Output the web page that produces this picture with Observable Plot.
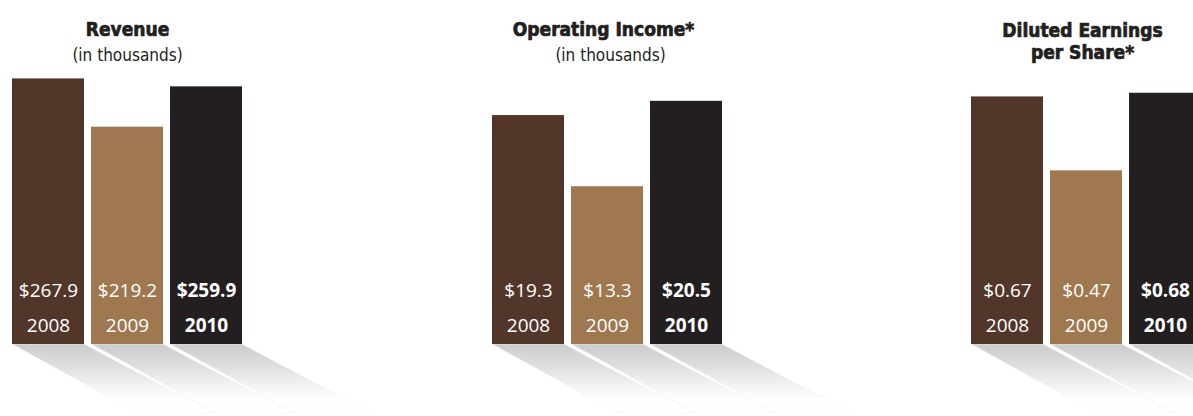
<!DOCTYPE html>
<html><head><meta charset="utf-8">
<script src="https://cdn.jsdelivr.net/npm/d3@7"></script>
<script src="https://cdn.jsdelivr.net/npm/@observablehq/plot@0.6"></script>
<style>
body{margin:0;background:#fff;}
#chart{position:relative;width:1193px;height:416px;overflow:hidden;background:#fff;}
#chart svg{position:absolute;top:0;}
</style></head>
<body><div id="chart"></div>
<script>
// ---- data ----
const years = ["2008", "2009", "2010"];
const revenue = [267.9, 219.2, 259.9];
const operatingIncome = [19.3, 13.3, 20.5];
const dilutedEPS = [0.67, 0.47, 0.68];
const barColors = ["#53362a", "#a0784f", "#231f20"];
const highlightYear = "2010";
const panelTitles = [["Revenue"], ["Operating Income*"], ["Diluted Earnings", "per Share*"]];
const panelSubtitles = ["(in thousands)", "(in thousands)", ""];
const panelValues = [revenue, operatingIncome, dilutedEPS];
const valueDecimals = [1, 1, 2];
const yMax = [347, 29, 0.931];

// ---- layout ----
const panelLeft = [0, 480, 959];
const titleBaseline = [[35], [35], [36, 58]];
const titleDx = [0, -4, -4];
const subtitleBaseline = 60;
const titleFont = "'DejaVu Sans Condensed', 'DejaVu Sans', sans-serif";
const labelFont = "'Open Sans', sans-serif";

const container = document.getElementById("chart");

function shadowMark(data, id) {
  return (index, scales, values, dimensions) => {
    const x = scales.x, y = scales.y;
    const bw = x.bandwidth();
    const y0 = y(0);
    const depth = dimensions.height - y0 - 3;
    const g = d3.create("svg:g").attr("aria-label", "shadow");
    const grad = g.append("defs").append("linearGradient")
      .attr("id", id).attr("gradientUnits", "userSpaceOnUse")
      .attr("x1", 0).attr("x2", 0).attr("y1", y0).attr("y2", y0 + 58);
    grad.append("stop").attr("offset", 0).attr("stop-color", "#cbccce");
    grad.append("stop").attr("offset", 0.45).attr("stop-color", "#e1e2e3");
    grad.append("stop").attr("offset", 0.8).attr("stop-color", "#f8f8f8");
    grad.append("stop").attr("offset", 1).attr("stop-color", "#ffffff");
    for (const d of data) {
      const x0 = x(d.year), x1 = x0 + bw;
      const pts = [[x0, y0], [x1, y0], [x1 + depth * 1.88, y0 + depth], [x0 + depth * 1.82, y0 + depth]];
      g.append("polygon").attr("points", pts.map(p => p.join(",")).join(" "))
        .attr("fill", `url(#${id})`).attr("stroke", "#f3f3f3").attr("stroke-width", 0.6);
    }
    return g.node();
  };
}

panelValues.forEach((vals, p) => {
  const data = years.map((year, i) => ({year, value: vals[i], color: barColors[i],
    label: "$" + vals[i].toFixed(valueDecimals[p])}));
  const normal = data.filter(d => d.year !== highlightYear);
  const bold = data.filter(d => d.year === highlightYear);
  const textCommon = {x: "year", y: () => 0, fill: "#ffffff", fontFamily: labelFont, fontSize: 19, lineAnchor: "bottom"};
  const titleMarks = panelTitles[p].map((line, k) =>
    Plot.text([line], {x: () => years[1], text: d => d, frameAnchor: "top",
      lineAnchor: "bottom", dy: titleBaseline[p][k], dx: titleDx[p],
      fontSize: 19, fontWeight: "bold", fill: "#231f20", stroke: "#231f20", strokeWidth: 0.7,
      fontFamily: titleFont}));
  const svg = Plot.plot({
    width: 420, height: 416,
    marginLeft: 12, marginRight: 178, marginTop: 0, marginBottom: 72,
    x: {domain: years, axis: null, paddingInner: 7 / 79, paddingOuter: 0},
    y: {domain: [0, yMax[p]], axis: null},
    style: {background: "transparent", overflow: "visible"},
    marks: [
      shadowMark(data, "shadowGrad" + p),
      Plot.barY(data, {x: "year", y: "value", fill: "color"}),
      Plot.text(normal, {...textCommon, text: "label", dy: -48}),
      Plot.text(bold, {...textCommon, text: "label", dy: -48, fontWeight: "bold"}),
      Plot.text(normal, {...textCommon, text: "year", dy: -13}),
      Plot.text(bold, {...textCommon, text: "year", dy: -13, fontWeight: "bold"}),
      ...titleMarks,
      panelSubtitles[p] ? Plot.text([panelSubtitles[p]], {x: () => years[1], text: d => d, frameAnchor: "top",
        lineAnchor: "bottom", dy: subtitleBaseline, dx: p === 1 ? 3 : 0, fontSize: 17, fill: "#231f20",
        fontFamily: titleFont}) : null
    ].filter(Boolean)
  });
  svg.style.left = panelLeft[p] + "px";
  container.appendChild(svg);
});
</script>
</body></html>
